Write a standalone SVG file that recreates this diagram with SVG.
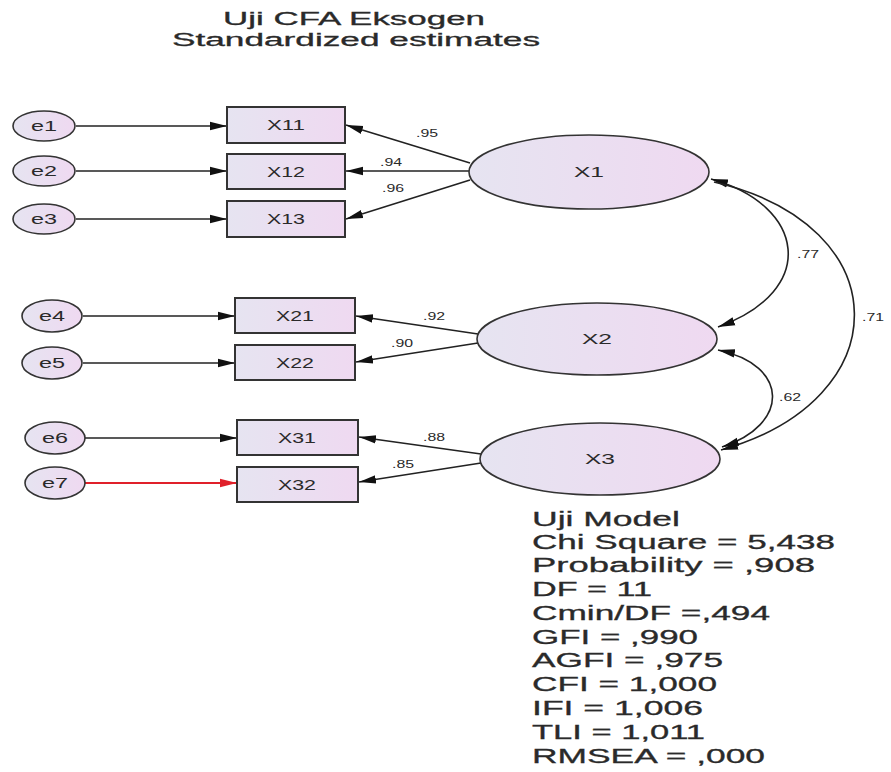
<svg xmlns="http://www.w3.org/2000/svg" width="891" height="772" viewBox="0 0 891 772">
<style>
text{font-family:"Liberation Sans",Arial,sans-serif;fill:#2a2a2a}
.ln{fill:none;stroke:#222;stroke-width:1.6}
.red{fill:none;stroke:#e0202a;stroke-width:1.8}
.err{fill:url(#g);stroke:#333;stroke-width:1.6}
.box{fill:url(#g);stroke:#333;stroke-width:2}
.lat{fill:url(#g);stroke:#333;stroke-width:1.6}
.nl{font-size:14px}
.el{font-size:10px}
.st{font-size:20px;stroke:#2a2a2a;stroke-width:0.3}
.tt{font-size:18px;stroke:#2a2a2a;stroke-width:0.3}
</style>
<defs>
<linearGradient id="g" x1="0" y1="0" x2="1" y2="0">
<stop offset="0" stop-color="#e6e4f1"/>
<stop offset="1" stop-color="#efd9f1"/>
</linearGradient>
<marker id="a" markerUnits="userSpaceOnUse" markerWidth="18" markerHeight="12" refX="17" refY="6" orient="auto-start-reverse">
<path d="M0,1.8 L17,6 L0,10.2 Z" fill="#111"/>
</marker>
<marker id="ar" markerUnits="userSpaceOnUse" markerWidth="18" markerHeight="12" refX="17" refY="6" orient="auto">
<path d="M0,1.8 L17,6 L0,10.2 Z" fill="#e0202a"/>
</marker>
</defs>
<rect width="891" height="772" fill="#fff"/>
<g id="title">
<text class="tt" x="223" y="25" textLength="262" lengthAdjust="spacingAndGlyphs">Uji CFA Eksogen</text>
<text class="tt" x="172" y="46" textLength="368" lengthAdjust="spacingAndGlyphs">Standardized estimates</text>
</g>
<g id="connectors">
<line class="ln" x1="76" y1="126" x2="227" y2="126" marker-end="url(#a)"/>
<line class="ln" x1="76" y1="171" x2="227" y2="171" marker-end="url(#a)"/>
<line class="ln" x1="76" y1="219" x2="227" y2="219" marker-end="url(#a)"/>
<line class="ln" x1="83" y1="316" x2="235" y2="316" marker-end="url(#a)"/>
<line class="ln" x1="83" y1="363" x2="235" y2="363" marker-end="url(#a)"/>
<line class="ln" x1="85" y1="438" x2="237" y2="438" marker-end="url(#a)"/>
<line class="red" x1="85" y1="483" x2="237" y2="483" marker-end="url(#ar)"/>
<line class="ln" x1="470" y1="163" x2="346" y2="125" marker-end="url(#a)"/>
<line class="ln" x1="469" y1="171" x2="346" y2="171" marker-end="url(#a)"/>
<line class="ln" x1="470" y1="180" x2="346" y2="219" marker-end="url(#a)"/>
<line class="ln" x1="478" y1="334" x2="356" y2="316" marker-end="url(#a)"/>
<line class="ln" x1="478" y1="343" x2="356" y2="362" marker-end="url(#a)"/>
<line class="ln" x1="481" y1="454" x2="359" y2="437" marker-end="url(#a)"/>
<line class="ln" x1="481" y1="463" x2="359" y2="482" marker-end="url(#a)"/>
<path class="ln" d="M711,179 C805,205 820,290 718,327" marker-start="url(#a)" marker-end="url(#a)"/>
<path class="ln" d="M714,182 C900,225 900,400 721,450" marker-end="url(#a)"/>
<path class="ln" d="M718,350 C790,365 790,425 722,447" marker-start="url(#a)" marker-end="url(#a)"/>
<text class="el" x="416" y="137" textLength="22" lengthAdjust="spacingAndGlyphs">.95</text>
<text class="el" x="380" y="166" textLength="22" lengthAdjust="spacingAndGlyphs">.94</text>
<text class="el" x="382" y="192" textLength="22" lengthAdjust="spacingAndGlyphs">.96</text>
<text class="el" x="423" y="320" textLength="22" lengthAdjust="spacingAndGlyphs">.92</text>
<text class="el" x="391" y="347" textLength="22" lengthAdjust="spacingAndGlyphs">.90</text>
<text class="el" x="423" y="441" textLength="22" lengthAdjust="spacingAndGlyphs">.88</text>
<text class="el" x="392" y="468" textLength="22" lengthAdjust="spacingAndGlyphs">.85</text>
<text class="el" x="797" y="258" textLength="22" lengthAdjust="spacingAndGlyphs">.77</text>
<text class="el" x="862" y="321" textLength="22" lengthAdjust="spacingAndGlyphs">.71</text>
<text class="el" x="779" y="401" textLength="22" lengthAdjust="spacingAndGlyphs">.62</text>
</g>
<g id="e1"><ellipse class="err" cx="44" cy="126" rx="31" ry="15"/><text class="nl" x="31" y="131" textLength="26" lengthAdjust="spacingAndGlyphs">e1</text></g>
<g id="e2"><ellipse class="err" cx="44" cy="171" rx="31" ry="15"/><text class="nl" x="31" y="176" textLength="26" lengthAdjust="spacingAndGlyphs">e2</text></g>
<g id="e3"><ellipse class="err" cx="44" cy="219" rx="31" ry="15"/><text class="nl" x="31" y="224" textLength="26" lengthAdjust="spacingAndGlyphs">e3</text></g>
<g id="e4"><ellipse class="err" cx="52" cy="316" rx="30" ry="16"/><text class="nl" x="39" y="321" textLength="26" lengthAdjust="spacingAndGlyphs">e4</text></g>
<g id="e5"><ellipse class="err" cx="52" cy="363" rx="30" ry="16"/><text class="nl" x="39" y="368" textLength="26" lengthAdjust="spacingAndGlyphs">e5</text></g>
<g id="e6"><ellipse class="err" cx="55" cy="438" rx="30" ry="16"/><text class="nl" x="42" y="443" textLength="26" lengthAdjust="spacingAndGlyphs">e6</text></g>
<g id="e7"><ellipse class="err" cx="55" cy="483" rx="30" ry="16"/><text class="nl" x="42" y="488" textLength="26" lengthAdjust="spacingAndGlyphs">e7</text></g>
<g id="X11"><rect class="box" x="227" y="107" width="118" height="36"/><text class="nl" x="267" y="130" textLength="38" lengthAdjust="spacingAndGlyphs">X11</text></g>
<g id="X12"><rect class="box" x="227" y="154" width="118" height="35"/><text class="nl" x="267" y="177" textLength="38" lengthAdjust="spacingAndGlyphs">X12</text></g>
<g id="X13"><rect class="box" x="227" y="201" width="118" height="36"/><text class="nl" x="267" y="224" textLength="38" lengthAdjust="spacingAndGlyphs">X13</text></g>
<g id="X21"><rect class="box" x="235" y="298" width="120" height="35"/><text class="nl" x="276" y="321" textLength="38" lengthAdjust="spacingAndGlyphs">X21</text></g>
<g id="X22"><rect class="box" x="235" y="345" width="120" height="35"/><text class="nl" x="276" y="368" textLength="38" lengthAdjust="spacingAndGlyphs">X22</text></g>
<g id="X31"><rect class="box" x="237" y="420" width="121" height="35"/><text class="nl" x="278" y="443" textLength="38" lengthAdjust="spacingAndGlyphs">X31</text></g>
<g id="X32"><rect class="box" x="237" y="467" width="121" height="35"/><text class="nl" x="278" y="490" textLength="38" lengthAdjust="spacingAndGlyphs">X32</text></g>
<g id="X1"><ellipse class="lat" cx="589" cy="172" rx="120" ry="37"/><text class="nl" x="574" y="177" textLength="30" lengthAdjust="spacingAndGlyphs">X1</text></g>
<g id="X2"><ellipse class="lat" cx="597" cy="339" rx="120" ry="36"/><text class="nl" x="582" y="344" textLength="30" lengthAdjust="spacingAndGlyphs">X2</text></g>
<g id="X3"><ellipse class="lat" cx="600" cy="459" rx="120" ry="36"/><text class="nl" x="585" y="464" textLength="30" lengthAdjust="spacingAndGlyphs">X3</text></g>
<g id="fit">
<text class="st" x="532" y="526" textLength="148" lengthAdjust="spacingAndGlyphs">Uji Model</text>
<text class="st" x="532" y="549" textLength="303" lengthAdjust="spacingAndGlyphs">Chi Square = 5,438</text>
<text class="st" x="532" y="572" textLength="283" lengthAdjust="spacingAndGlyphs">Probability  = ,908</text>
<text class="st" x="532" y="596" textLength="120" lengthAdjust="spacingAndGlyphs">DF = 11</text>
<text class="st" x="532" y="620" textLength="238" lengthAdjust="spacingAndGlyphs">Cmin/DF =,494</text>
<text class="st" x="532" y="644" textLength="166" lengthAdjust="spacingAndGlyphs">GFI = ,990</text>
<text class="st" x="532" y="667" textLength="191" lengthAdjust="spacingAndGlyphs">AGFI = ,975</text>
<text class="st" x="532" y="691" textLength="185" lengthAdjust="spacingAndGlyphs">CFI = 1,000</text>
<text class="st" x="532" y="715" textLength="171" lengthAdjust="spacingAndGlyphs">IFI = 1,006</text>
<text class="st" x="532" y="739" textLength="173" lengthAdjust="spacingAndGlyphs">TLI = 1,011</text>
<text class="st" x="532" y="763" textLength="233" lengthAdjust="spacingAndGlyphs">RMSEA = ,000</text>
</g>
</svg>
